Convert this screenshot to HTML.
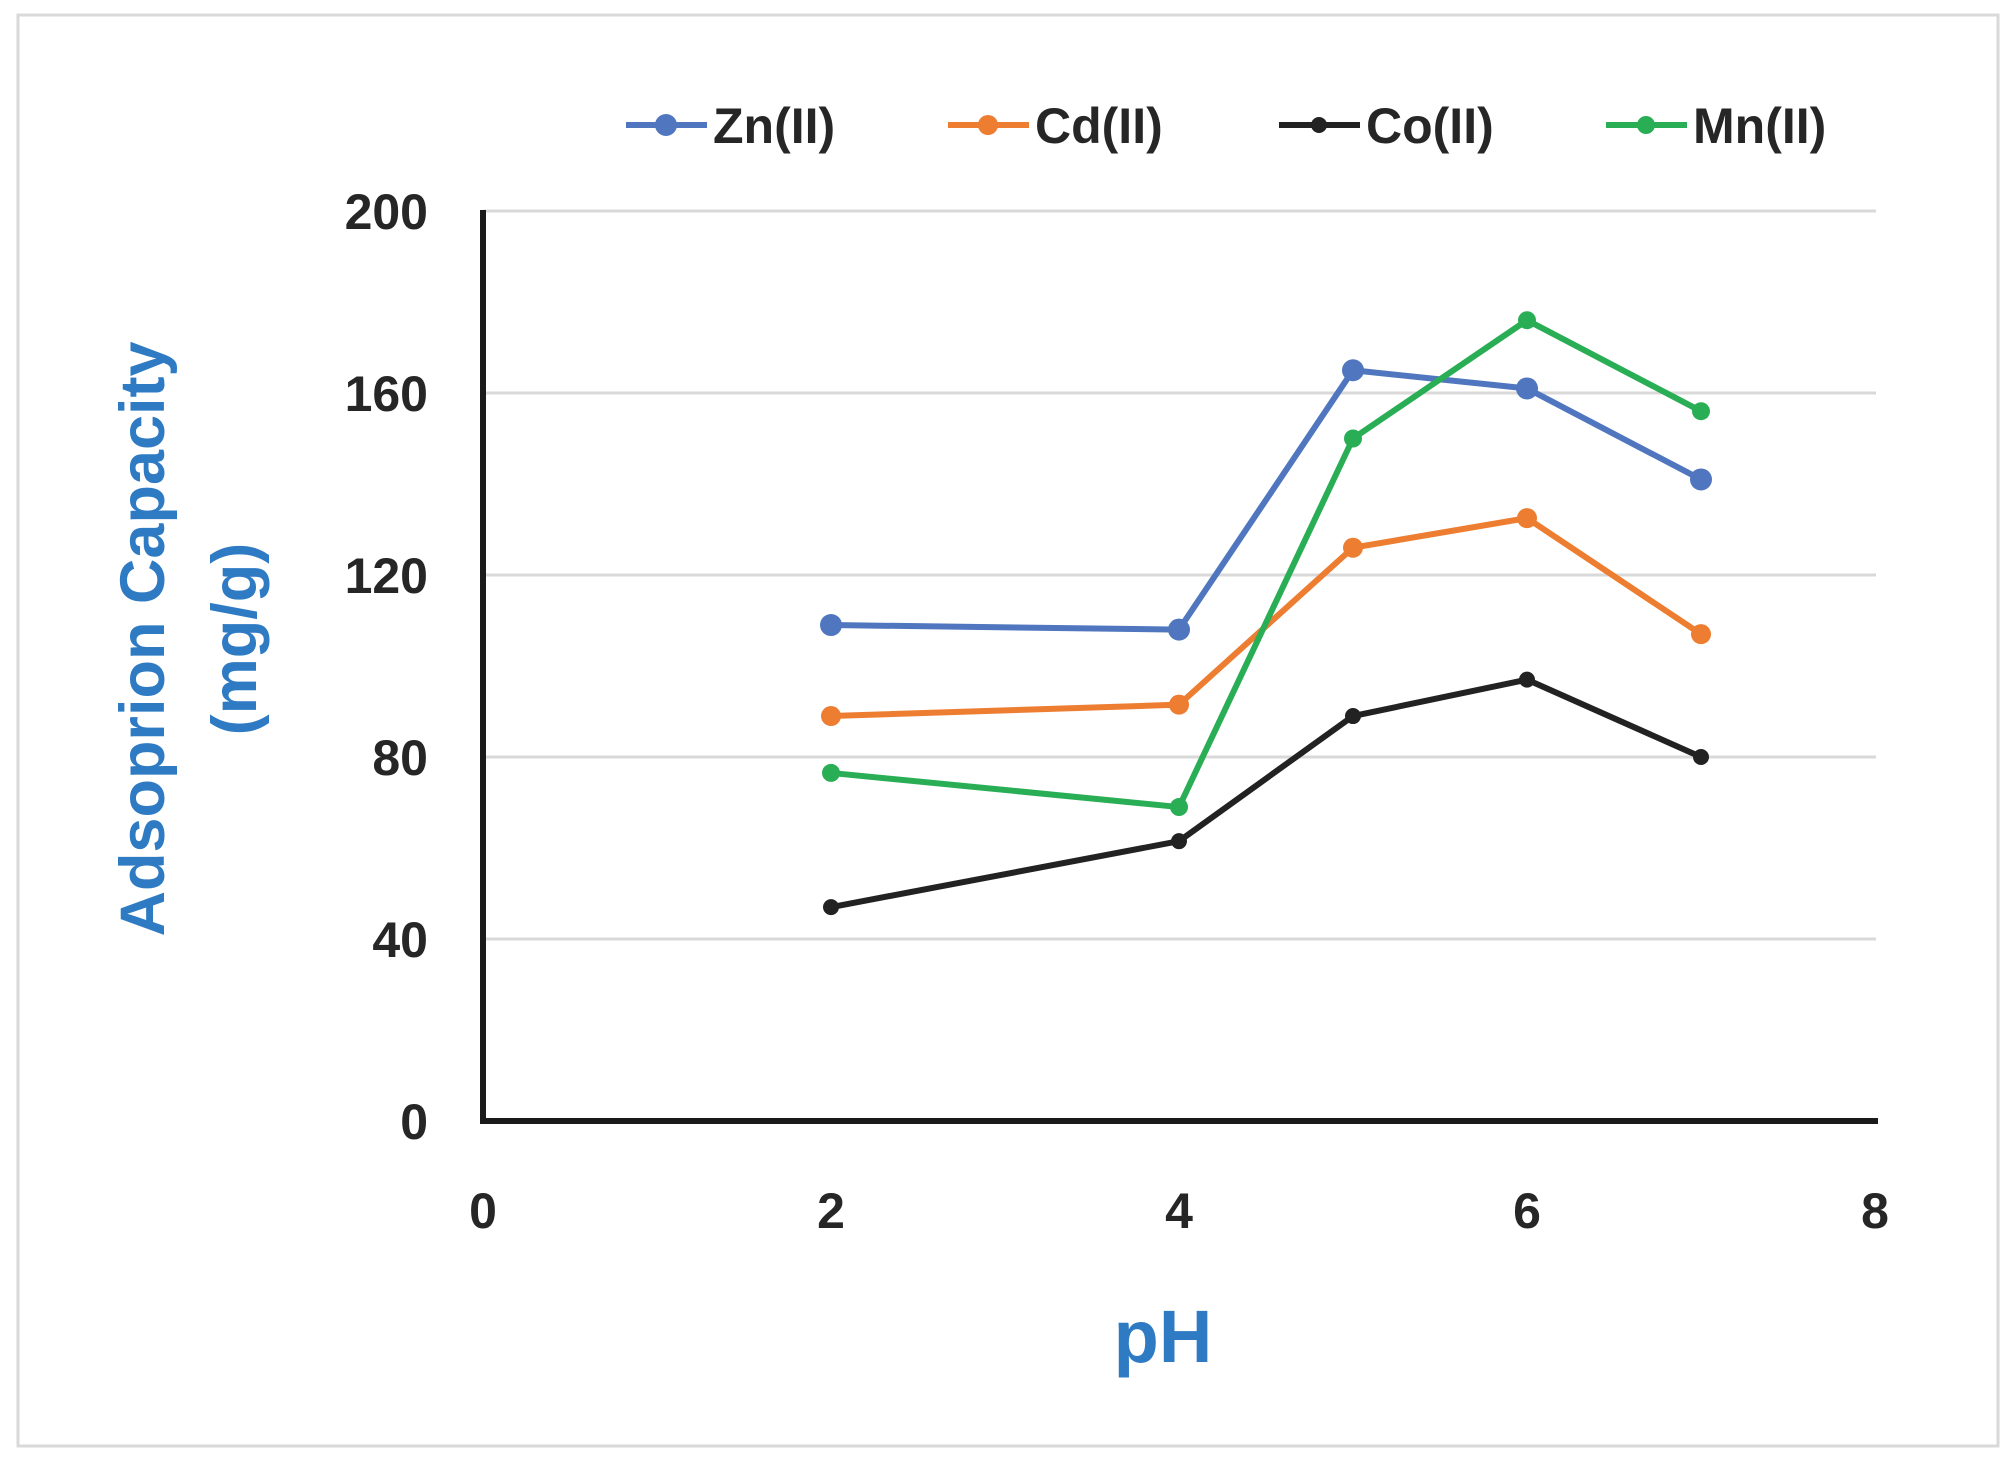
<!DOCTYPE html>
<html><head><meta charset="utf-8"><style>
html,body{margin:0;padding:0;background:#fff;}
body{width:2015px;height:1463px;overflow:hidden;font-family:"Liberation Sans",sans-serif;}
</style></head><body>
<svg id="chart" width="2015" height="1463" xmlns="http://www.w3.org/2000/svg" font-family="Liberation Sans, sans-serif">
<rect x="18" y="15" width="1980" height="1431" fill="#fff" stroke="#d9d9d9" stroke-width="3"/>
<g id="grid"></g>
<g id="ticks"></g>
<g id="series"></g>
<line x1="483" y1="210" x2="483" y2="1124" stroke="#1a1a1a" stroke-width="6"/>
<line x1="480" y1="1121" x2="1878" y2="1121" stroke="#1a1a1a" stroke-width="6"/>
<g transform="translate(192,639) rotate(-90)" fill="#2e7bc4" font-weight="bold" font-size="63" text-anchor="middle">
<text y="-28">Adsoprion Capacity</text>
<text y="64">(mg/g)</text>
</g>
<text x="1163" y="1362" fill="#2e7bc4" font-weight="bold" font-size="74" text-anchor="middle">pH</text>
<g id="legend"></g>
</svg>
<script>
const xValues = [2, 4, 5, 6, 7];
const seriesNames = ["Zn(II)", "Cd(II)", "Co(II)", "Mn(II)"];
const znValues = [109, 108, 165, 161, 141];
const cdValues = [89, 91.5, 126, 132.5, 107];
const coValues = [47, 61.5, 89, 97, 80];
const mnValues = [76.5, 69, 150, 176, 156];
const yTicks = [0, 40, 80, 120, 160, 200];
const xTicks = [0, 2, 4, 6, 8];

const NS = "http://www.w3.org/2000/svg";
const X0 = 483, X1 = 1875, Y0 = 1121, Y1 = 211;
function sx(v){ return X0 + (v - 0) / 8 * (X1 - X0); }
function sy(v){ return Y0 - (v - 0) / 200 * (Y0 - Y1); }
function mk(tag, attrs){ const e = document.createElementNS(NS, tag); for (const k in attrs) e.setAttribute(k, attrs[k]); return e; }

const grid = document.getElementById('grid');
const ticks = document.getElementById('ticks');
yTicks.forEach(t => {
  if (t > 0) {
    const g = mk('line', {x1: X0, x2: 1876, y1: sy(t), y2: sy(t), stroke: '#d9d9d9', 'stroke-width': 3});
    
    
    grid.appendChild(g);
  }
  const l = mk('text', {x: 428, y: sy(t) + 18, 'text-anchor': 'end', 'font-size': 50, 'font-weight': 'bold', fill: '#262626'});
  l.textContent = t;
  
  
  ticks.appendChild(l);
});
xTicks.forEach(t => {
  const l = mk('text', {x: sx(t), y: 1228, 'text-anchor': 'middle', 'font-size': 50, 'font-weight': 'bold', fill: '#262626'});
  l.textContent = t;
  
  
  ticks.appendChild(l);
});

const allSeries = [znValues, cdValues, coValues, mnValues];
const colors = ['#4f76be', '#ed7d31', '#222222', '#2aae55'];
const radii = [11, 10, 8, 9];
const keys = ['zn', 'cd', 'co', 'mn'];
const sg = document.getElementById('series');
allSeries.forEach((vals, i) => {
  const pts = vals.map((v, j) => sx(xValues[j]) + ',' + sy(v)).join(' ');
  const pl = mk('polyline', {points: pts, fill: 'none', stroke: colors[i], 'stroke-width': 6, 'stroke-linejoin': 'round'});
  
  
  sg.appendChild(pl);
  vals.forEach((v, j) => {
    const c = mk('circle', {cx: sx(xValues[j]), cy: sy(v), r: radii[i], fill: colors[i]});
    
    
    sg.appendChild(c);
  });
});

const lg = document.getElementById('legend');
const lx = [626, 948, 1279, 1606];
seriesNames.forEach((n, i) => {
  const g = mk('g', {});
  
  
  g.appendChild(mk('line', {x1: lx[i], x2: lx[i] + 81, y1: 125, y2: 125, stroke: colors[i], 'stroke-width': 6}));
  g.appendChild(mk('circle', {cx: lx[i] + 40, cy: 125, r: radii[i], fill: colors[i]}));
  const t = mk('text', {x: lx[i] + 87, y: 143, 'font-size': 50, 'font-weight': 'bold', fill: '#262626'});
  t.textContent = n;
  g.appendChild(t);
  lg.appendChild(g);
});
</script>
</body></html>
